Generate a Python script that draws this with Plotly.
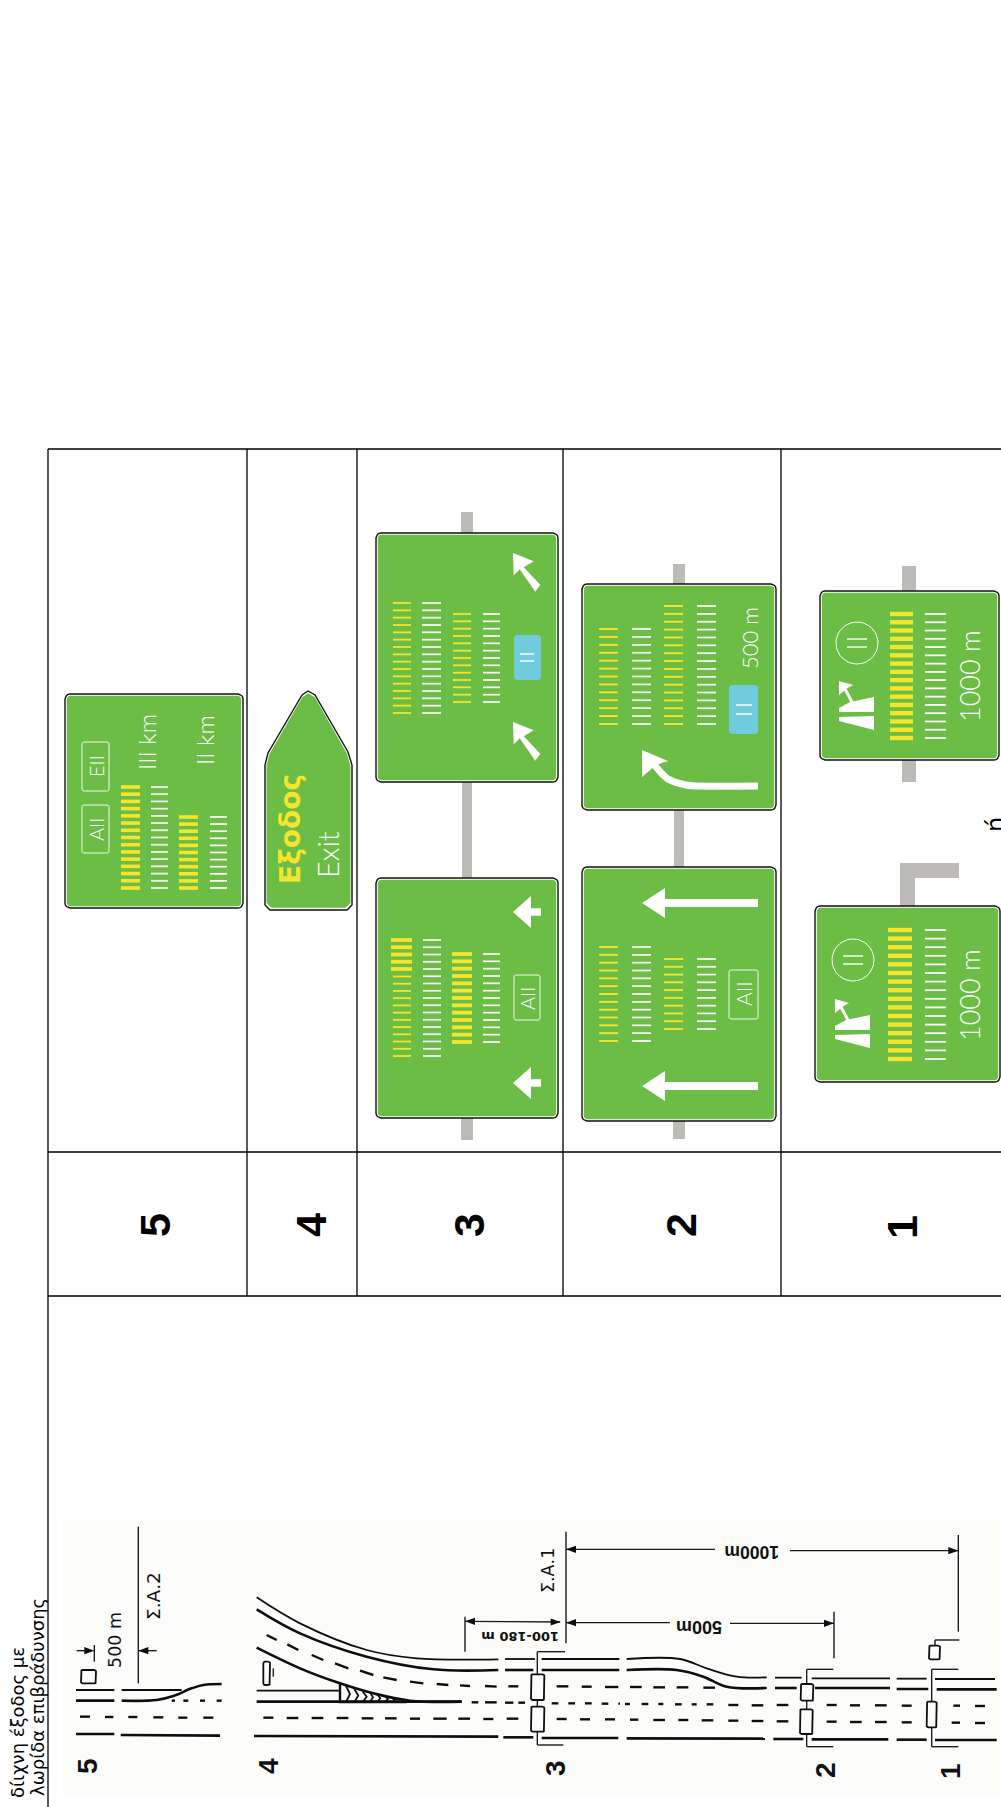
import numpy as np
import plotly.graph_objects as go

W, H = 1001, 1807
INK = "#0e0e0e"
GREEN = "#6cbd45"
YELLOW = "#f4e62f"
WHITE = "#ffffff"
BLUE = "#70cbdc"
GREY = "#bdbbb8"
THIN = "Lato"
TEXTF = "DejaVu Sans"

# ---- table frame (px)
TABLE_V = [[48, 449, 1807], [247, 449, 1296], [357, 449, 1296], [563, 449, 1296], [781, 449, 1296]]
TABLE_H = [[48, 1001, 449], [48, 1001, 1152], [48, 1001, 1296]]
ROW_NUMBERS = ["5", "4", "3", "2", "1"]
ROW_NUM_X = [155, 311, 469, 681, 902]
ROW_NUM_Y = [1225, 1225, 1225, 1225, 1227]

# ---- signs: x0, x1, y0, y1
SIGN_RECTS = [
    [65, 243, 694, 908], [376, 558, 533, 782], [376, 558, 878, 1118],
    [582, 776, 584, 810], [582, 776, 867, 1121], [820, 999, 591, 760], [815, 1000, 906, 1082],
]
POSTS = [
    [461, 473, 512, 533], [462, 472, 782, 878], [461, 473, 1118, 1140],
    [673, 685, 564, 584], [674, 684, 810, 867], [673, 685, 1121, 1139],
    [902, 916, 566, 591], [902, 916, 760, 782], [900, 915, 863, 906], [900, 959, 863, 878],
]
EXIT_X = [302, 308, 315, 348, 352, 352, 347, 270, 265, 265, 268]
EXIT_Y = [695, 691, 695, 752, 765, 905, 910, 910, 905, 765, 753]

# stripe columns: x0, x1, y first, y last, count, colour, thickness
STRIPES = [
    [121, 140, 787, 888, 15, YELLOW, 3.6], [151, 168, 787, 888, 15, WHITE, 1.7],
    [179, 198, 817, 888, 11, YELLOW, 3.6], [210, 227, 817, 888, 11, WHITE, 1.7],
    [393, 411, 603, 713, 16, YELLOW, 1.8], [422, 441, 603, 713, 16, WHITE, 1.7],
    [453, 471, 614, 702, 13, YELLOW, 1.8], [483, 500, 614, 702, 13, WHITE, 1.7],
    [391, 412, 940, 969, 5, YELLOW, 3.8],
    [393, 411, 976.5, 1056, 12, YELLOW, 1.8], [423, 441, 940, 1056, 17, WHITE, 1.7],
    [452, 472, 954, 1042, 13, YELLOW, 3.8], [483, 500, 954, 1042, 13, WHITE, 1.7],
    [599, 618, 629, 724, 13, YELLOW, 1.9], [632, 651, 629, 724, 13, WHITE, 1.7],
    [664, 683, 606, 724, 16, YELLOW, 1.9], [697, 716, 606, 724, 16, WHITE, 1.7],
    [599, 618, 947, 1041, 13, YELLOW, 1.9], [632, 651, 947, 1041, 13, WHITE, 1.7],
    [664, 683, 959, 1029, 10, YELLOW, 1.9], [697, 716, 959, 1029, 10, WHITE, 1.7],
    [890, 913, 614, 738, 16, YELLOW, 4.4], [925, 946, 614, 738, 16, WHITE, 1.8],
    [888, 912, 930, 1059, 16, YELLOW, 4.4], [925, 946, 930, 1059, 16, WHITE, 1.8],
]

# small "II" bars inside blue boxes and circles: x0, x1, y
II_BARS = [
    [520, 534, 654], [520, 534, 661], [736, 752, 705], [736, 752, 714],
    [847, 867, 639], [847, 867, 647], [843, 863, 956], [843, 863, 964],
]
BLUE_BOXES = [[514, 541, 635, 680], [729, 758, 685, 734]]
OUTLINE_BOXES = [
    [82, 109, 805, 853], [82, 109, 742, 791], [514, 540, 975, 1020], [729, 758, 970, 1019],
]
CIRCLES = [[857, 643, 21], [853, 960, 21]]

# white arrows
ARROW_DIAG_DX = [0, 20.7, 10.7, 27.3, 22.3, 6.7, 0.7]
ARROW_DIAG_DY = [0, 8.2, 14.3, 31.8, 38.8, 16.3, 22.4]
ARROW_DIAG_TIPS = [[513, 553], [513, 722]]
ARROW_SHORT_DX = [0, 18, 18, 28, 28, 18, 18]
ARROW_SHORT_DY = [0, -16, -3.7, -3.7, 3.7, 3.7, 16]
ARROW_SHORT_TIPS = [[513, 912], [513, 1083]]
ARROW_LONG_DX = [0, 23, 23, 116, 116, 23, 23]
ARROW_LONG_DY = [0, -15, -4, -4, 4, 4, 15]
ARROW_LONG_TIPS = [[642, 903], [642, 1086]]
CURVE_SHAFT_X = [758, 700, 686, 668, 653]
CURVE_SHAFT_Y = [786, 786, 785, 779, 763]
CURVE_HEAD_X = [642, 668, 656, 642]
CURVE_HEAD_Y = [750, 761, 765, 777]

# motorway-exit icon (upper sign), with the offset of the lower sign
ICON_TOP_X = [839, 850, 874, 874, 839]
ICON_TOP_Y = [708, 702, 697, 712, 712]
ICON_LOW_X = [839, 874, 874, 839]
ICON_LOW_Y = [717, 716, 730, 721]
ICON_HEAD_X = [839, 853, 846, 839]
ICON_HEAD_Y = [681, 685, 689, 695]
ICON_SHAFT_X = [853, 845]
ICON_SHAFT_Y = [704, 689]
ICON_OFFSETS = [[0, 0], [-4, 318]]

# ---- road diagram in drawing units (u, v): px = u/3, py = 1480 + v/3
LINES_THICK = [
    [[228, 343], [662, 662]],
    [[1500 + 15, 1500 + 100], [570, 570]], [[1500 + 125, 1500 + 358], [570, 570]],
    [[1500 + 825, 1500 + 890], [624, 624]], [[1500 + 945, 1500 + 1170], [624, 624]],
    [[1500 + 1190, 1500 + 1285], [627, 627]], [[1500 + 1310, 1500 + 1490], [628, 628]],
    [[770, 1385], [665, 665]],
    [[228, 343], [762, 762]], [[362, 660], [765, 767]],
    [[762, 1495], [768, 770]],
    [[1500 + 10, 1500 + 100], [772, 772]], [[1500 + 125, 1500 + 355], [774, 774]],
    [[1500 + 380, 1500 + 795], [775, 776]], [[1500 + 820, 1500 + 910], [777, 777]],
    [[1500 + 935, 1500 + 1165], [778, 778]], [[1500 + 1190, 1500 + 1280], [779, 779]],
    [[1500 + 1305, 1500 + 1490], [780, 780]],
]
LINES_THIN = [
    [[228, 343], [630, 630]], [[365, 545], [630, 630]], [[770, 1020], [632, 632]],
    [[1500 + 15, 1500 + 105], [537, 537]], [[1500 + 125, 1500 + 358], [537, 537]],
    [[1500 + 825, 1500 + 905], [593, 593]], [[1500 + 935, 1500 + 1170], [595, 595]],
    [[1500 + 1190, 1500 + 1280], [596, 596]], [[1500 + 1305, 1500 + 1485], [597, 597]],
]
CURVES_THICK = [
    [[365, 470, 520, 575, 610, 665], [662, 660, 648, 625, 615, 612]],
    [[770, 900, 1100, 1300, 1495], [388, 460, 530, 568, 570]],
    [[1880, 2030, 2110, 2180, 2300], [570, 570, 590, 620, 624]],
    [[770, 900, 1020, 1120, 1230, 1385], [503, 565, 610, 640, 662, 665]],
]
CURVES_THIN = [
    [[770, 900, 1100, 1250, 1495], [352, 430, 510, 535, 538]],
    [[1880, 2040, 2120, 2210, 2300], [537, 537, 565, 590, 592]],
]
DASH_SEGMENTS = [
    [240, 270, 710], [315, 340, 711], [385, 412, 711], [460, 490, 712], [535, 562, 713], [610, 640, 713],
    [515, 525, 662], [550, 565, 662], [600, 615, 662], [650, 665, 662],
    [790, 820, 713], [860, 895, 714], [935, 970, 714], [1010, 1045, 714], [1085, 1120, 715], [1155, 1190, 715],
    [1230, 1260, 716], [1300, 1340, 716], [1375, 1410, 716], [1450, 1480, 717],
    [1520, 1555, 716], [1670, 1700, 717], [1740, 1770, 718], [1815, 1845, 718], [1890, 1915, 719], [1960, 1995, 720],
    [2035, 2065, 720], [2105, 2140, 721], [2185, 2215, 722], [2255, 2290, 723], [2330, 2365, 724], [2480, 2510, 725],
    [2550, 2585, 726], [2625, 2660, 726], [2705, 2735, 727], [2855, 2880, 728], [2925, 2955, 729],
    [1525, 1555, 619], [1670, 1705, 619], [1745, 1775, 620], [1815, 1855, 621], [1890, 1925, 621], [1960, 1995, 622],
    [2030, 2065, 622], [2110, 2145, 623],
    [1415, 1435, 667], [1455, 1490, 667], [1515, 1540, 668], [1555, 1575, 668], [1655, 1675, 670], [1705, 1725, 670],
    [1755, 1775, 670], [1805, 1825, 671], [1855, 1860, 671], [1875, 1890, 672], [1925, 1945, 672], [1975, 1990, 672],
    [2025, 2045, 673], [2075, 2090, 673], [2120, 2140, 673], [2185, 2215, 675], [2255, 2290, 676], [2330, 2365, 675],
    [2480, 2510, 675], [2550, 2580, 676], [2625, 2660, 676], [2705, 2735, 677], [2860, 2880, 677], [2925, 2955, 678],
]
DIAG_DASHES = [
    [800, 465, 830, 480], [862, 493, 895, 510], [935, 525, 970, 540], [1005, 550, 1045, 565],
    [1080, 572, 1120, 585], [1150, 592, 1190, 600], [1230, 605, 1270, 610], [1310, 612, 1345, 615],
    [1380, 616, 1410, 618], [1455, 618, 1490, 620],
]
THIN_RULES = [
    [415, 140, 415, 610], [1698, 155, 1698, 490], [2875, 165, 2875, 455], [2502, 395, 2502, 535], [1395, 410, 1395, 515],
    [1500 + 112, 515, 1500 + 195, 515], [1500 + 112, 795, 1500 + 190, 795], [1500 + 112, 515, 1500 + 112, 795],
    [2420, 568, 2500, 568], [2420, 800, 2500, 800], [2420, 568, 2420, 800],
    [2795, 568, 2875, 568], [2795, 800, 2875, 800], [2795, 568, 2795, 800],
    [2805, 480, 2878, 480], [2805, 480, 2805, 497],
    [1698, 208, 2145, 208], [2370, 212, 2875, 212],
    [1698, 428, 2010, 428], [2190, 430, 2502, 430],
    [1395, 424, 1680, 426],
    [230, 512, 270, 512], [283, 495, 283, 545], [415, 512, 470, 512],
    [820, 565, 820, 590],
]
GANTRY_BOXES = [
    [1593, 1633, 583, 660], [1593, 1633, 680, 755], [2402, 2440, 612, 662], [2400, 2438, 688, 762],
    [2780, 2810, 665, 742], [2787, 2820, 497, 538], [243, 288, 570, 610], [790, 810, 545, 615],
]
# dimension arrowheads: tip u, tip v, direction (+1 points right, -1 points left)
DIM_ARROW_U = [1698, 2875, 1698, 2502, 1395, 1682, 283, 415]
DIM_ARROW_V = [208, 212, 428, 430, 424, 426, 512, 512]
DIM_ARROW_DIR = [-1, 1, -1, 1, -1, 1, 1, -1]
# gore chevrons in px: apex offset, x, top y
CHEVRON_X = [346, 354.3, 362.7, 370, 377.3, 385, 392.7]
CHEVRON_TOP = [1686, 1689, 1691.5, 1692.5, 1694.5, 1696, 1698]
CHEVRON_DX = [4, 4, 4, 3, 3, 3, 2]
GORE_X = [340, 340, 350, 370, 390, 407]
GORE_Y = [1684, 1702, 1702, 1702, 1702, 1702]
DIAGRAM_BG = [63, 1001, 1520, 1797]

LB = "Liberation Sans"
# (text, x, y, size, colour, font, angle, weight)
TEXTS = [
    ("δίιχνη έξοδος με", 17, 1723, 18, "#000", TEXTF, -90, 400),
    ("λωρίδα επιβράδυνσης", 37, 1697, 18, "#000", TEXTF, -90, 400),
    ("III km", 146, 742, 24, WHITE, THIN, -90, 300),
    ("II km", 204, 740, 24, WHITE, THIN, -90, 300),
    ("AII", 96, 829, 20, WHITE, THIN, -90, 300),
    ("EII", 96, 766, 20, WHITE, THIN, -90, 300),
    ("Εξοδος", 290, 829, 28, YELLOW, TEXTF, -90, 700),
    ("Exit", 327, 855, 29, WHITE, THIN, -90, 300),
    ("AII", 527, 998, 20, WHITE, THIN, -90, 300),
    ("AII", 743, 994, 21, WHITE, THIN, -90, 300),
    ("500 m", 749, 638, 22, WHITE, THIN, -90, 300),
    ("1000 m", 969, 676, 27, WHITE, THIN, -90, 300),
    ("1000 m", 969, 995, 27, WHITE, THIN, -90, 300),
    ("ή", 996, 825, 24, "#000", TEXTF, -90, 400),
    ("500 m", 115, 1640, 17.5, "#111", TEXTF, -90, 400),
    ("Σ.Α.2", 153, 1596, 18.5, "#111", TEXTF, -90, 400),
    ("Σ.Α.1", 548, 1571, 17.5, "#111", TEXTF, -90, 400),
    ("1000m", 752, 1552, 17.5, "#111", LB, 180, 700),
    ("500m", 699, 1627, 18, "#111", LB, 180, 700),
    ("100-180 m", 520, 1637, 13, "#111", TEXTF, 180, 700),
    ("5", 87, 1766, 28, "#111", LB, -90, 700),
    ("4", 268, 1766, 28, "#111", LB, -90, 700),
    ("3", 555, 1768, 28, "#111", LB, -90, 700),
    ("2", 825, 1770, 28, "#111", LB, -90, 700),
    ("1", 950, 1771, 28, "#111", LB, -90, 700),
]

# ---------------------------------------------------------------- helpers
fig = go.Figure()


def px(u):
    return u / 3


def py(v):
    return 1480 + v / 3


def poly(xs, ys, fill, line=None, lw=0):
    fig.add_trace(go.Scatter(x=list(xs) + [xs[0]], y=list(ys) + [ys[0]], mode="lines", fill="toself",
                             fillcolor=fill, line=dict(color=line or fill, width=lw), hoverinfo="skip"))


def path(xs, ys, color, lw, spline=False):
    fig.add_trace(go.Scatter(x=xs, y=ys, mode="lines", hoverinfo="skip", connectgaps=False,
                             line=dict(color=color, width=lw, shape="spline" if spline else "linear", smoothing=1)))


def rrect(x0, x1, y0, y1, r):
    xs, ys = [], []
    corners = [(x1 - r, y0 + r, -90), (x1 - r, y1 - r, 0), (x0 + r, y1 - r, 90), (x0 + r, y0 + r, 180)]
    for cx, cy, a in corners:
        for t in np.radians(np.linspace(a, a + 90, 5)):
            xs.append(cx + r * np.cos(t))
            ys.append(cy + r * np.sin(t))
    return xs, ys


def rect(x0, x1, y0, y1):
    return [x0, x1, x1, x0], [y0, y0, y1, y1]


def segs(items):
    xs, ys = [], []
    for it in items:
        xs += [it[0], it[2], None]
        ys += [it[1], it[3], None]
    return xs, ys


# ---------------------------------------------------------------- frame
xs, ys = rect(DIAGRAM_BG[0], DIAGRAM_BG[1], DIAGRAM_BG[2], DIAGRAM_BG[3])
poly(xs, ys, "#fcfcfa")
xs, ys = segs([[a, b, a, c] for a, b, c in TABLE_V] + [[a, c, b, c] for a, b, c in TABLE_H])
path(xs, ys, "#000000", 1.3)

# posts behind signs
for x0, x1, y0, y1 in POSTS:
    xs, ys = rect(x0, x1, y0, y1)
    poly(xs, ys, GREY)

# signs
for x0, x1, y0, y1 in SIGN_RECTS:
    xs, ys = rrect(x0, x1, y0, y1, 5)
    poly(xs, ys, WHITE, "#111111", 1.4)
    xs, ys = rrect(x0 + 1.8, x1 - 1.8, y0 + 1.8, y1 - 1.8, 3.5)
    poly(xs, ys, GREEN)
poly(EXIT_X, EXIT_Y, WHITE, "#111111", 1.4)
poly([308.5 + (x - 308.5) * 0.965 for x in EXIT_X], [802 + (y - 802) * 0.98 for y in EXIT_Y], GREEN)

for x0, x1, y0, y1 in BLUE_BOXES:
    xs, ys = rrect(x0, x1, y0, y1, 3)
    poly(xs, ys, BLUE)
for x0, x1, y0, y1 in OUTLINE_BOXES:
    xs, ys = rrect(x0, x1, y0, y1, 2)
    path(xs + xs[:1], ys + ys[:1], WHITE, 0.9)
for cx, cy, r in CIRCLES:
    t = np.radians(np.arange(0, 361, 8))
    path(cx + r * np.cos(t), cy + r * np.sin(t), WHITE, 1)

for x0, x1, y0, y1, n, col, th in STRIPES:
    xs, ys = [], []
    for y in np.linspace(y0, y1, n):
        xs += [x0, x1, None]
        ys += [y, y, None]
    path(xs, ys, col, th)
xs, ys = segs([[a, c, b, c] for a, b, c in II_BARS])
path(xs, ys, WHITE, 1.4)

for tips, dx, dy in [(ARROW_DIAG_TIPS, ARROW_DIAG_DX, ARROW_DIAG_DY),
                     (ARROW_SHORT_TIPS, ARROW_SHORT_DX, ARROW_SHORT_DY),
                     (ARROW_LONG_TIPS, ARROW_LONG_DX, ARROW_LONG_DY)]:
    for tx, ty in tips:
        poly([tx + d for d in dx], [ty + d for d in dy], WHITE)
path(CURVE_SHAFT_X, CURVE_SHAFT_Y, WHITE, 7, spline=True)
poly(CURVE_HEAD_X, CURVE_HEAD_Y, WHITE)

for ox, oy in ICON_OFFSETS:
    poly([x + ox for x in ICON_TOP_X], [y + oy for y in ICON_TOP_Y], WHITE)
    poly([x + ox for x in ICON_LOW_X], [y + oy for y in ICON_LOW_Y], WHITE)
    poly([x + ox for x in ICON_HEAD_X], [y + oy for y in ICON_HEAD_Y], WHITE)
    path([x + ox for x in ICON_SHAFT_X], [y + oy for y in ICON_SHAFT_Y], WHITE, 3)

# ---------------------------------------------------------------- road diagram
for u, v in LINES_THICK:
    path([px(a) for a in u], [py(a) for a in v], INK, 2.6)
for u, v in LINES_THIN:
    path([px(a) for a in u], [py(a) for a in v], INK, 1.8)
for u, v in CURVES_THICK:
    path([px(a) for a in u], [py(a) for a in v], INK, 2.6, spline=True)
for u, v in CURVES_THIN:
    path([px(a) for a in u], [py(a) for a in v], INK, 1.8, spline=True)
xs, ys = segs([[px(a), py(c), px(b), py(c)] for a, b, c in DASH_SEGMENTS])
path(xs, ys, INK, 2.4)
xs, ys = segs([[px(a), py(b), px(c), py(d)] for a, b, c, d in DIAG_DASHES])
path(xs, ys, INK, 2.4)
xs, ys = segs([[px(a), py(b), px(c), py(d)] for a, b, c, d in THIN_RULES])
path(xs, ys, "#1a1a1a", 1.4)
for u0, u1, v0, v1 in GANTRY_BOXES:
    xs, ys = rrect(px(u0), px(u1), py(v0), py(v1), 1.5)
    poly(xs, ys, "#fcfcfa", INK, 1.8)
for u, v, d in zip(DIM_ARROW_U, DIM_ARROW_V, DIM_ARROW_DIR):
    x, y = px(u), py(v)
    poly([x, x - d * 10, x - d * 10], [y, y - 3.6, y + 3.6], INK)
# gore
path(GORE_X, GORE_Y, INK, 2.4)
xs, ys = [], []
for x, top, dx in zip(CHEVRON_X, CHEVRON_TOP, CHEVRON_DX):
    xs += [x, x + dx, x, None]
    ys += [top, (top + 1702) / 2, 1702, None]
path(xs, ys, INK, 1.8)

# ---------------------------------------------------------------- layout
ann = [dict(text=str(n), x=x, y=y, showarrow=False, textangle=-90, xanchor="center", yanchor="middle",
            font=dict(family="Liberation Sans", size=43, color="#000", weight=700))
       for n, x, y in zip(ROW_NUMBERS, ROW_NUM_X, ROW_NUM_Y)]
for t, x, y, size, col, fam, ang, wt in TEXTS:
    ann.append(dict(text=t, x=x, y=y, showarrow=False, textangle=ang, xanchor="center", yanchor="middle",
                    font=dict(family=fam, size=size, color=col, weight=wt)))

fig.update_layout(
    width=W, height=H, autosize=False, showlegend=False,
    margin=dict(l=0, r=0, t=0, b=0, pad=0),
    paper_bgcolor="white", plot_bgcolor="white", annotations=ann,
    xaxis=dict(range=[0, W], visible=False, fixedrange=True),
    yaxis=dict(range=[H, 0], visible=False, fixedrange=True),
)
fig.write_html("out.html", config=dict(displayModeBar=False),
               post_script="document.body.style.margin='0';document.body.style.overflow='hidden';")
